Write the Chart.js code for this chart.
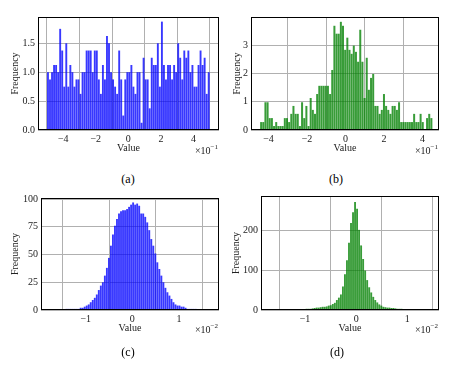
<!DOCTYPE html>
<html><head><meta charset="utf-8">
<script src="https://cdn.jsdelivr.net/npm/chart.js@4/dist/chart.umd.min.js"></script>
<style>
html,body{margin:0;padding:0;background:#fff;}
#wrap{position:relative;width:453px;height:372px;overflow:hidden;background:#fff;}
.pane{position:absolute;}
.cap{position:absolute;font-family:'Liberation Serif',serif;font-size:12px;line-height:14px;color:#000;transform:translateX(-50%);white-space:nowrap;}
</style></head><body>
<div id="wrap">
  <div class="pane" style="left:0;top:0"><canvas id="ca" width="226" height="170"></canvas></div>
  <div class="pane" style="left:226px;top:0"><canvas id="cb" width="227" height="170"></canvas></div>
  <div class="pane" style="left:0;top:186px"><canvas id="cc" width="226" height="170"></canvas></div>
  <div class="pane" style="left:226px;top:186px"><canvas id="cd" width="227" height="170"></canvas></div>
  <div class="cap" style="left:128px;top:172px">(a)</div>
  <div class="cap" style="left:336px;top:172px">(b)</div>
  <div class="cap" style="left:128px;top:345px">(c)</div>
  <div class="cap" style="left:337px;top:345px">(d)</div>
</div>
<script>
// ---- data ----
const aFreq = [1.0,0.875,1.0,1.125,1.125,1.0,1.75,1.375,0.75,1.5,
  0.75,1.125,1.0,0.75,0.875,0.875,0.625,1.0,1.0,1.375,
  1.375,1.375,1.0,1.375,1.375,0.875,0.625,1.125,0.875,1.625,
  1.5,1.0,0.875,0.75,0.625,1.375,0.875,0.25,0.875,1.0,
  1.0,1.125,0.75,0.625,1.0,1.0,0.125,1.25,0.875,0.875,
  0.375,1.25,1.125,1.125,1.5,0.75,1.875,1.125,0.875,1.125,
  1.125,0.875,1.125,1.0,1.5,1.25,0.875,1.375,1.25,1.375,
  1.0,1.125,0.75,0.75,1.125,1.375,1.125,1.25,0.625,1.0];
const aBinStart = -0.5, aBinWidth = 0.0125;

const bFreq = [0.28,0.28,0.98,0.98,0.42,0.42,0.14,0.28,0.14,0.14,
  0.14,0.42,0.42,0.28,0.57,0.85,0.57,0.57,0.14,0.98,
  0.42,0.85,0.14,1.13,0.71,0.57,1.27,1.56,1.56,1.56,
  1.56,1.56,1.27,2.12,3.68,3.4,3.4,3.82,3.68,2.83,
  3.26,2.83,2.69,2.98,2.76,2.41,3.54,2.41,1.13,2.55,
  1.42,1.84,1.98,0.85,0.85,0.57,0.71,1.27,0.85,0.71,
  0.57,0.85,0.85,0.71,0.98,0.28,0.28,0.28,0.28,0.28,
  0.28,0.57,0.28,0.28,0.57,0.28,0,0.42,0.57,0.42];
const bBinStart = -0.444, bBinWidth = 0.0112;

const cCount = [0,0,0,0,0,0,0,0,1,1,
  1,1,1,1,1,2,2,3,4,5,
  7,9,11,14,18,22,25,31,38,47,
  58,68,76,82,87,89,90,90,91,93,
  95,97,95,96,94,87,87,84,79,72,
  64,58,51,43,37,31,25,20,16,13,
  10,7,5,4,4,3,3,2,1,1,
  1,1,1,0,0,0,0,0,0,0];
const cBinStart = -0.0178, cBinWidth = 0.000433;

const dCount = [0,0,0,0,0,0,0,0,0,0,
  0,0,0,0,0,0,2,2,3,3,
  3,4,5,6,6,7,8,8,9,11,
  12,15,18,25,31,39,59,90,125,169,
  218,245,271,254,201,162,128,99,75,57,
  44,33,25,19,14,11,8,7,6,6,
  5,5,4,3,3,3,2,2,2,2,
  0,0,0,0,0,0,0,0,0,0];
const dBinStart = -0.0170, dBinWidth = 0.000395;

const abXTicks = [-4, -2, 0, 2, 4];     // in units of 10^-1
const cdXTicks = [-1, 0, 1];            // in units of 10^-2
const aYTicks = [0, 0.5, 1.0, 1.5];
const bYTicks = [0, 1, 2, 3];
const cYTicks = [0, 25, 50, 75, 100];
const dYTicks = [0, 100, 200];

// ---- helpers ----
const FONT = "'Liberation Serif', 'Times New Roman', serif";
const minus = s => String(s).replace('-', '\u2212');

const framePlugin = {
  id: 'frame',
  afterDraw(chart) {
    const {ctx, chartArea: a} = chart;
    ctx.save();
    ctx.strokeStyle = '#000';
    ctx.lineWidth = 1;
    ctx.strokeRect(Math.round(a.left) + 0.5, Math.round(a.top) + 0.5,
      Math.round(a.right - a.left) - 1, Math.round(a.bottom - a.top) - 1);
    ctx.restore();
  }
};
const offsetPlugin = {
  id: 'offsetText',
  afterDraw(chart, args, opts) {
    if (!opts || !opts.exp) return;
    const {ctx, chartArea: a} = chart;
    ctx.save();
    ctx.fillStyle = '#222';
    ctx.textAlign = 'right';
    ctx.textBaseline = 'alphabetic';
    ctx.font = '7px ' + FONT;
    const sup = minus(opts.exp);
    const w = ctx.measureText(sup).width;
    const base = a.bottom + opts.dy;
    ctx.fillText(sup, a.right - 1, base - 5);
    ctx.font = '10px ' + FONT;
    ctx.fillText('\u00d710', a.right - 1 - w, base);
    ctx.restore();
  }
};

function makeHist(id, cfg) {
  const data = cfg.counts.map((y, i) => ({x: cfg.start + (i + 0.5) * cfg.width, y}));
  const W = cfg.cw, H = cfg.ch, A = cfg.area;
  return new Chart(document.getElementById(id), {
    type: 'bar',
    data: {datasets: [{data, backgroundColor: cfg.color, borderWidth: 0,
      barPercentage: 0.93, categoryPercentage: 1.0}]},
    options: {
      responsive: false, animation: false, devicePixelRatio: 1,
      layout: {padding: {left: 0, top: A.top, right: W - A.right, bottom: 0}},
      plugins: {legend: {display: false}, tooltip: {enabled: false},
        offsetText: {exp: cfg.exp, dy: cfg.expDy}},
      scales: {
        x: {
          type: 'linear', offset: false, min: cfg.xMin, max: cfg.xMax, z: 1,
          afterFit: s => { s.height = H - A.bottom; },
          afterBuildTicks: s => { s.ticks = cfg.xTicks.map(v => ({value: v * cfg.xFactor})); },
          grid: {color: '#b0b0b0', lineWidth: 1, drawTicks: false},
          border: {display: false},
          ticks: {padding: 3, color: '#222', font: {family: FONT, size: 10},
            maxRotation: 0, autoSkip: false,
            callback: v => minus(Math.round(v / cfg.xFactor))},
          title: {display: true, text: 'Value', color: '#222',
            font: {family: FONT, size: 10}, padding: {top: 0, bottom: cfg.xTitlePad}}
        },
        y: {
          min: 0, max: cfg.yMax, z: 1,
          afterFit: s => { s.width = A.left; },
          afterBuildTicks: s => { s.ticks = cfg.yTicks.map(v => ({value: v})); },
          grid: {color: '#b0b0b0', lineWidth: 1, drawTicks: false},
          border: {display: false},
          ticks: {padding: 3, color: '#222', font: {family: FONT, size: 10},
            autoSkip: false, callback: cfg.yFmt},
          title: {display: true, text: 'Frequency', color: '#222',
            font: {family: FONT, size: 10}, padding: {top: cfg.yTitlePad, bottom: 0}}
        }
      }
    },
    plugins: [framePlugin, offsetPlugin]
  });
}

const BLUE = 'rgba(0,0,255,0.78)';
const GREEN = 'rgba(0,128,0,0.78)';

function drawAll() {
  makeHist('ca', {counts: aFreq, start: aBinStart, width: aBinWidth, color: BLUE,
    xMin: -0.555, xMax: 0.557, yMax: 1.955, xTicks: abXTicks, xFactor: 0.1,
    yTicks: aYTicks, yFmt: v => v.toFixed(1), cw: 226, ch: 170,
    area: {left: 38, top: 17, right: 219, bottom: 130}, yTitlePad: 9, xTitlePad: 16,
    exp: '-1', expDy: 24});
  makeHist('cb', {counts: bFreq, start: bBinStart, width: bBinWidth, color: GREEN,
    xMin: -0.491, xMax: 0.486, yMax: 3.99, xTicks: abXTicks, xFactor: 0.1,
    yTicks: bYTicks, yFmt: v => String(v), cw: 227, ch: 170,
    area: {left: 25, top: 17, right: 213, bottom: 130}, yTitlePad: 5, xTitlePad: 16,
    exp: '-1', expDy: 24});
  makeHist('cc', {counts: cCount, start: cBinStart, width: cBinWidth, color: BLUE,
    xMin: -0.0196, xMax: 0.0186, yMax: 101, xTicks: cdXTicks, xFactor: 0.01,
    yTicks: cYTicks, yFmt: v => String(v), cw: 226, ch: 170,
    area: {left: 41, top: 12, right: 219, bottom: 124}, yTitlePad: 9, xTitlePad: 22,
    exp: '-2', expDy: 23});
  makeHist('cd', {counts: dCount, start: dBinStart, width: dBinWidth, color: GREEN,
    xMin: -0.0186, xMax: 0.0162, yMax: 286, xTicks: cdXTicks, xFactor: 0.01,
    yTicks: dYTicks, yFmt: v => String(v), cw: 227, ch: 170,
    area: {left: 35, top: 10, right: 213, bottom: 124}, yTitlePad: 4, xTitlePad: 22,
    exp: '-2', expDy: 23});
}
if (document.fonts && document.fonts.load) {
  document.fonts.load("10px 'Liberation Serif'").then(drawAll, drawAll);
} else {
  drawAll();
}
</script>
</body></html>
